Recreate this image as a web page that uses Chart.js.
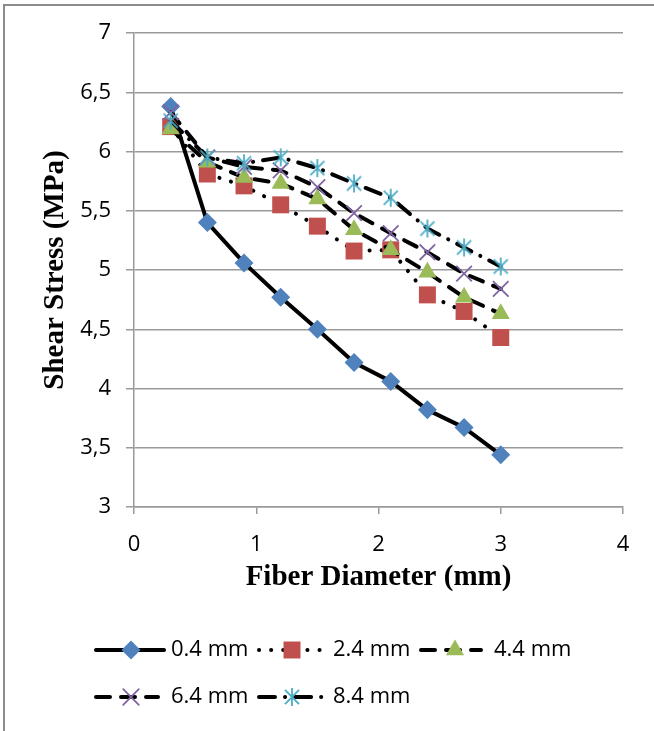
<!DOCTYPE html>
<html>
<head>
<meta charset="utf-8">
<script src="https://cdn.jsdelivr.net/npm/chart.js@4"></script>
<style>
html,body{margin:0;padding:0;background:#fff;}
#wrap{width:654px;height:731px;position:relative;}
</style>
</head>
<body>
<div id="wrap"><canvas id="c" width="654" height="731"></canvas></div>
<script>
// ---- data ----
const fiberDiameter = [0.3, 0.6, 0.9, 1.2, 1.5, 1.8, 2.1, 2.4, 2.7, 3.0];
const seriesNames = ['0.4 mm', '2.4 mm', '4.4 mm', '6.4 mm', '8.4 mm'];
const s04 = [6.38, 5.40, 5.06, 4.77, 4.50, 4.22, 4.06, 3.82, 3.67, 3.44];
const s24 = [6.21, 5.81, 5.71, 5.55, 5.37, 5.16, 5.17, 4.79, 4.65, 4.43];
const s44 = [6.19, 5.91, 5.78, 5.73, 5.60, 5.34, 5.17, 4.98, 4.77, 4.63];
const s64 = [6.33, 5.95, 5.87, 5.84, 5.70, 5.48, 5.31, 5.15, 4.97, 4.84];
const s84 = [6.26, 5.95, 5.90, 5.95, 5.86, 5.73, 5.61, 5.35, 5.19, 5.03];
const xTicks = [0, 1, 2, 3, 4];
const yTicks = [3, 3.5, 4, 4.5, 5, 5.5, 6, 6.5, 7];

// ---- styles ----
const TICK_FONT = {family: '"Open Sans", Lato, sans-serif', size: 22};
const TITLE_FONT = {family: '"Liberation Serif", "Times New Roman", serif', size: 29, weight: 'bold'};
const GRID = '#9a9a9a';

function asterisk(color, size) {
  const c = document.createElement('canvas');
  c.width = size; c.height = size;
  const g = c.getContext('2d');
  const m = size / 2, r = size / 2 - 1;
  g.strokeStyle = color; g.lineWidth = 1.8;
  g.beginPath();
  g.moveTo(m, m - r); g.lineTo(m, m + r);
  const d = r * 0.78;
  g.moveTo(m - d, m - d); g.lineTo(m + d, m + d);
  g.moveTo(m - d, m + d); g.lineTo(m + d, m - d);
  g.stroke();
  return c;
}

const styles = [
  {color: '#4F81BD', pointStyle: 'rectRot', radius: 9.5, dash: [], pbw: 0},
  {color: '#C0504D', pointStyle: 'rect', radius: 12, dash: [0.1, 12], pbw: 0},
  {color: '#9BBB59', pointStyle: 'triangle', radius: 10.5, dash: [14, 11], pbw: 0},
  {color: '#8064A2', pointStyle: 'crossRot', radius: 11, dash: [14, 11], pbw: 1.8},
  {color: '#4BACC6', pointStyle: asterisk('#4BACC6', 20), radius: 10, dash: [16, 10, 0.1, 10], pbw: 1.8}
];
const seriesData = [s04, s24, s44, s64, s84];

const datasets = seriesData.map((vals, i) => ({
  label: seriesNames[i],
  data: vals.map((v, k) => ({x: fiberDiameter[k], y: v})),
  borderColor: '#000',
  borderWidth: 4,
  borderDash: styles[i].dash,
  borderCapStyle: 'round',
  borderJoinStyle: 'round',
  pointStyle: styles[i].pointStyle,
  pointRadius: styles[i].radius,
  pointBackgroundColor: styles[i].color,
  pointBorderColor: styles[i].color,
  pointBorderWidth: styles[i].pbw,
  pointHoverRadius: styles[i].radius,
  showLine: true,
  fill: false,
  tension: 0,
  order: seriesData.length - i
}));

const framePlugin = {
  id: 'frame',
  beforeDraw(chart) {
    const ctx = chart.ctx;
    ctx.save();
    ctx.strokeStyle = '#8c8c8c';
    ctx.lineWidth = 2;
    ctx.beginPath();
    ctx.moveTo(4, 731); ctx.lineTo(4, 5); ctx.lineTo(654, 5);
    ctx.stroke();
    ctx.restore();
  }
};

// legend layout: [lineStart, lineEnd, markerX, textX, y]
const legendPos = [
  [96, 164, 131, 171, 650],
  [259, 320, 292, 333, 650],
  [421, 481, 455, 494, 650],
  [96, 158, 131, 171, 697],
  [259, 326, 292, 333, 697]
];
const legendPlugin = {
  id: 'customLegend',
  afterDraw(chart) {
    const ctx = chart.ctx;
    ctx.save();
    legendPos.forEach((p, i) => {
      const st = styles[i];
      ctx.strokeStyle = '#000';
      ctx.lineWidth = 4;
      ctx.lineCap = 'round';
      ctx.setLineDash(st.dash);
      ctx.beginPath();
      ctx.moveTo(p[0], p[4]); ctx.lineTo(p[1], p[4]);
      ctx.stroke();
      ctx.setLineDash([]);
      ctx.fillStyle = st.color;
      ctx.strokeStyle = st.color;
      ctx.lineWidth = st.pbw;
      Chart.helpers.drawPoint(ctx, {pointStyle: st.pointStyle, radius: st.radius, rotation: 0, borderWidth: st.pbw}, p[2], p[4]);
      ctx.fillStyle = '#000';
      ctx.font = TICK_FONT.size + 'px ' + TICK_FONT.family;
      ctx.textBaseline = 'middle';
      ctx.textAlign = 'left';
      ctx.fillText(seriesNames[i], p[3], p[4]);
    });
    ctx.restore();
  }
};

new Chart(document.getElementById('c'), {
  type: 'scatter',
  data: {datasets},
  options: {
    responsive: false,
    devicePixelRatio: 1,
    animation: false,
    events: [],
    layout: {padding: {left: 0, top: 33, right: 31, bottom: 0}},
    plugins: {legend: {display: false}, tooltip: {enabled: false}},
    scales: {
      x: {
        type: 'linear', min: xTicks[0], max: xTicks[xTicks.length - 1],
        afterBuildTicks(s) { s.ticks = xTicks.map(v => ({value: v})); },
        afterFit(s) { s.height = 224; },
        grid: {drawOnChartArea: false, drawTicks: true, tickLength: 7, color: GRID, lineWidth: 1.5},
        border: {color: GRID, width: 1.5},
        ticks: {font: TICK_FONT, color: '#000', padding: 18, maxRotation: 0},
        title: {display: true, text: 'Fiber Diameter (mm)', font: TITLE_FONT, color: '#000', padding: {top: 0, bottom: 136}}
      },
      y: {
        type: 'linear', min: yTicks[0], max: yTicks[yTicks.length - 1],
        afterBuildTicks(s) { s.ticks = yTicks.map(v => ({value: v})); },
        afterFit(s) { s.width = 134; },
        grid: {drawOnChartArea: true, drawTicks: true, tickLength: 8, color: GRID, lineWidth: 1.5},
        border: {color: GRID, width: 1.5},
        ticks: {font: TICK_FONT, color: '#000', padding: 15,
          callback: v => String(v).replace('.', ',')},
        title: {display: true, text: 'Shear Stress (MPa)', font: TITLE_FONT, color: '#000', padding: {top: 38, bottom: 0}}
      }
    }
  },
  plugins: [framePlugin, legendPlugin]
});
</script>
</body>
</html>
